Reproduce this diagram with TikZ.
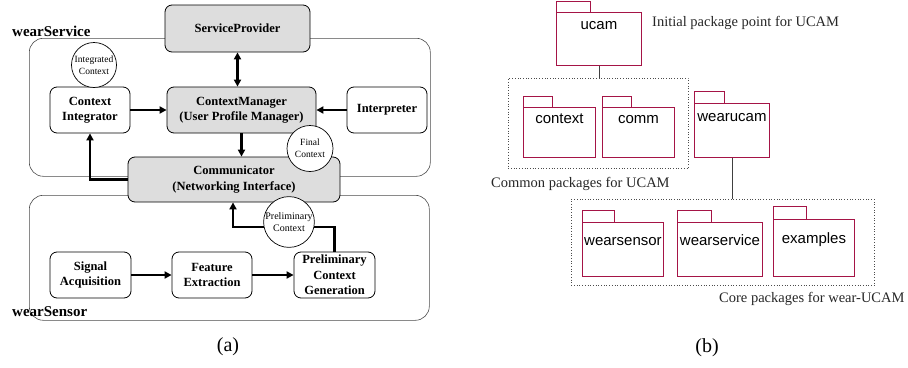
\documentclass[tikz,border=0pt]{standalone}
\usepackage{fontspec}
\setmainfont{Liberation Serif}
\setsansfont{Liberation Sans}
\usetikzlibrary{arrows.meta}

\definecolor{pkgred}{RGB}{165,20,70}
\definecolor{boxgray}{RGB}{221,221,221}

\tikzset{
  cont/.style={draw=black!70, line width=0.6pt, rounded corners=14pt, inner sep=0pt},
  blk/.style={draw, line width=0.8pt, rounded corners=7pt, fill=white, align=center,
    inner sep=0pt, font=\bfseries\fontsize{12.5}{15.5}\selectfont},
  gblk/.style={blk, fill=boxgray},
  ctx/.style={draw, circle, line width=0.7pt, fill=white, align=center, inner sep=0pt,
    font=\fontsize{9.5}{12}\selectfont},
  arr/.style={line width=2.2pt, -{Triangle[length=7pt,width=7pt]}},
  pkg/.style={draw=pkgred, line width=0.9pt, anchor=north west, inner sep=0pt},
  pkgtab/.style={draw=pkgred, line width=0.9pt},
  pkgtext/.style={font=\sffamily\fontsize{15}{18}\selectfont, anchor=base, inner sep=0pt},
  grp/.style={draw=black!70, dotted, line width=0.7pt, anchor=north west, inner sep=0pt},
  note/.style={font=\fontsize{14.5}{17}\selectfont, text=black!85, anchor=base west, inner sep=0pt},
  title/.style={font=\bfseries\fontsize{15}{18}\selectfont, anchor=base west, inner sep=0pt}
}

\begin{document}
\begin{tikzpicture}[x=1pt,y=-1pt]
  \useasboundingbox (0,0) rectangle (908,367);

  % ---- (a) layers
  \node[cont, minimum width=401, minimum height=138, anchor=north west] (svc) at (29,38) {};
  \node[cont, minimum width=400, minimum height=125, anchor=north west] (sen) at (29,195) {};
  \node[title] (svclbl) at (12,36) {wearService};
  \node[title] (senlbl) at (12,316) {wearSensor};

  % ---- (a) blocks
  \node[gblk, minimum width=145, minimum height=47] (sp) at (237.5,28.5) {ServiceProvider};
  \node[blk, minimum width=80, minimum height=46] (ci) at (90,110) {Context\\Integrator};
  \node[gblk, minimum width=149, minimum height=46] (cm) at (241.5,110) {ContextManager\\(User Profile Manager)};
  \node[blk, minimum width=80, minimum height=46] (ip) at (387,110) {Interpreter};
  \node[gblk, minimum width=212, minimum height=45] (com) at (234,179.5) {Communicator\\(Networking Interface)};
  \node[blk, minimum width=81, minimum height=46] (sa) at (90.5,275) {Signal\\Acquisition};
  \node[blk, minimum width=80, minimum height=46] (fe) at (212,275) {Feature\\Extraction};
  \node[blk, minimum width=81, minimum height=46] (pcg) at (334.5,275) {Preliminary\\Context\\Generation};

  % ---- (a) flows
  \draw[arr, {Triangle[length=7pt,width=7pt]}-{Triangle[length=7pt,width=7pt]}] (sp) -- (sp |- cm.north);
  \draw[arr] (ci) -- (cm);
  \draw[arr] (ip) -- (cm);
  \draw[arr] (cm) -- (cm |- com.north);
  \draw[arr] (com.west) -| (ci.south);
  \draw[arr] (sa) -- (fe);
  \draw[arr] (fe) -- (pcg);
  \coordinate (bend) at (233,227);
  \draw[arr] (pcg.north) |- (bend) -- (bend |- com.south);

  % ---- (a) context bubbles
  \node[ctx, minimum size=45] (ic) at (94,65) {Integrated\\Context};
  \node[ctx, minimum size=46] (fc) at (310,148.5) {Final\\Context};
  \node[ctx, minimum size=46, font=\fontsize{10}{12}\selectfont] (pc) at (289,222) {Preliminary\\Context};

  \node[font=\fontsize{20}{24}\selectfont] (capa) at (228,347) {(a)};

  % ---- (b) packages
  \node[grp, minimum width=180, minimum height=90] (common) at (508,78) {};
  \node[grp, minimum width=303, minimum height=86] (core) at (571,199) {};

  \node[pkg, minimum width=85, minimum height=53] (ucam) at (556,12) {};
  \draw[pkgtab] (ucam.north west) rectangle ++(34,-11);
  \node[pkgtext] (ucamlbl) at ([yshift=-17pt]ucam.north) {ucam};

  \node[pkg, minimum width=72, minimum height=50] (context) at (523,107) {};
  \draw[pkgtab] (context.north west) rectangle ++(29,-11);
  \node[pkgtext] (contextlbl) at ([yshift=-16pt]context.north) {context};

  \node[pkg, minimum width=72, minimum height=50] (comm) at (602,107) {};
  \draw[pkgtab] (comm.north west) rectangle ++(29,-11);
  \node[pkgtext] (commlbl) at ([yshift=-16pt]comm.north) {comm};

  \node[pkg, minimum width=75, minimum height=54] (wearucam) at (694,103) {};
  \draw[pkgtab] (wearucam.north west) rectangle ++(30,-12);
  \node[pkgtext] (wearucamlbl) at ([yshift=-18pt]wearucam.north) {wearucam};

  \node[pkg, minimum width=81, minimum height=54] (wsensor) at (582,222) {};
  \draw[pkgtab] (wsensor.north west) rectangle ++(32,-12);
  \node[pkgtext] (wsensorlbl) at ([yshift=-23pt]wsensor.north) {wearsensor};

  \node[pkg, minimum width=85, minimum height=54] (wservice) at (677,222) {};
  \draw[pkgtab] (wservice.north west) rectangle ++(34,-12);
  \node[pkgtext] (wservicelbl) at ([yshift=-23pt]wservice.north) {wearservice};

  \node[pkg, minimum width=81, minimum height=57] (examples) at (773,219) {};
  \draw[pkgtab] (examples.north west) rectangle ++(33,-13);
  \node[pkgtext] (exampleslbl) at ([yshift=-24pt]examples.north) {examples};

  \draw[line width=0.8pt, black!75] (ucam) -- (ucam.south |- common.north);
  \draw[line width=0.8pt, black!75] (wearucam) -- (wearucam.south |- core.north);

  \node[note] (n1) at (652,26) {Initial package point for UCAM};
  \node[note] (n2) at (491,187) {Common packages for UCAM};
  \node[note] (n3) at (719,302) {Core packages for wear-UCAM};

  \node[font=\fontsize{20}{24}\selectfont] (capb) at (707,348) {(b)};
\end{tikzpicture}
\end{document}
